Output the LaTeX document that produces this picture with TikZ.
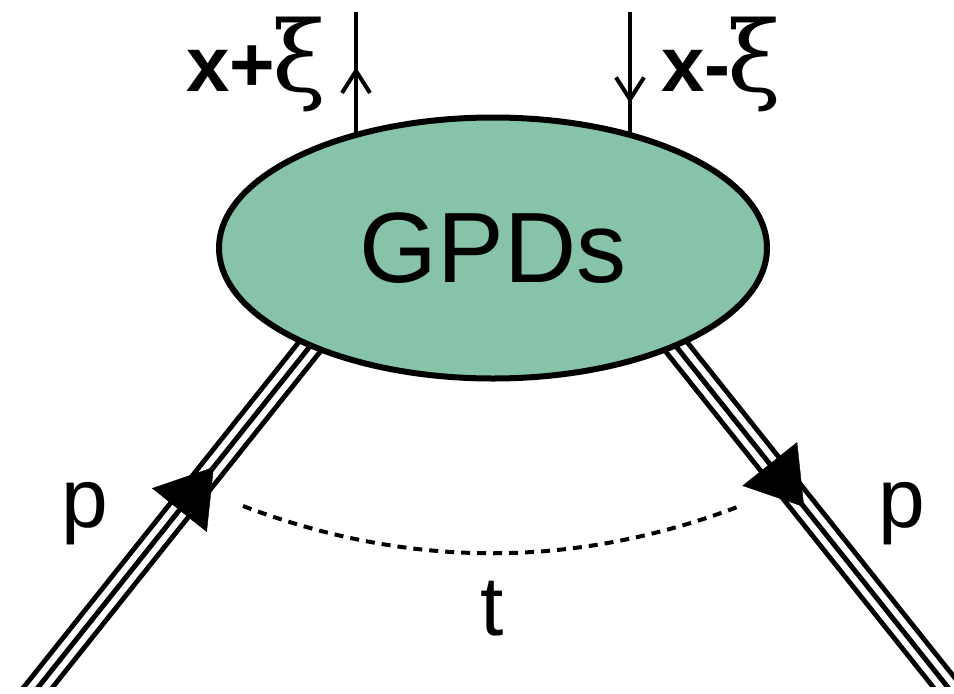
\documentclass[tikz,border=0pt]{standalone}
\usepackage{fontspec}
\setmainfont{Liberation Sans}
\newfontfamily\greekfont{DejaVu Serif}
\usetikzlibrary{arrows.meta,decorations.markings,shapes.geometric,backgrounds}
\definecolor{gpdgreen}{RGB}{134,195,168}
\newcommand\xiglyph{\kern-3pt{\greekfont\mdseries\fontsize{98}{98}\selectfont ξ}}
\begin{document}
\begin{tikzpicture}[x=1pt,y=-1pt,
  blob/.style={ellipse,draw=black,line width=6pt,fill=gpdgreen,
    minimum width=548pt,minimum height=261pt,inner sep=0pt,
    font=\fontsize{100}{100}\selectfont},
  quark/.style={line width=4.6pt},
  barbat/.style={postaction={decorate},decoration={markings,
    mark=at position #1 with {\arrow[line width=4pt]{Straight Barb[length=22pt,width=28pt]}}}},
  hadron/.style={line width=27.5pt,
    postaction={draw=white,line width=17.5pt},
    postaction={draw=black,line width=5pt}},
  bigtip/.style={decoration={markings,
    mark=at position #1 with {\arrow{Triangle[length=55pt,width=70pt]}}},decorate},
  lbl/.style={inner sep=0pt,font=\fontsize{84}{84}\selectfont},
  qlbl/.style={inner sep=0pt,font=\bfseries\fontsize{78}{78}\selectfont},
  cut/.style={dash pattern=on 9pt off 7pt,line width=4pt}]
\useasboundingbox (0,0) rectangle (954,694);

% the blob
\node[blob] (gpd) at (493,248) {GPDs};

% end points of the lines
\coordinate (qin)   at (356,150);
\coordinate (qinE)  at (356,12);
\coordinate (qout)  at (630,150);
\coordinate (qoutE) at (630,12);
\coordinate (pin)   at (28,700);
\coordinate (pinE)  at (331,320);
\coordinate (pout)  at (655,320);
\coordinate (poutE) at (958,700);
\coordinate (tl) at (243,506);
\coordinate (tr) at (740,506);

\begin{scope}[on background layer]
  \draw[quark,barbat=0.60] (qin) -- (qinE);
  \draw[quark,barbat=0.66] (qoutE) -- (qout);
  \begin{scope}
    \clip (0,0) rectangle (954,686);
    \draw[hadron] (pin) -- (pinE);
    \draw[hadron] (pout) -- (poutE);
  \end{scope}
\end{scope}

% proton arrows
\path[bigtip=0.613] (pin) -- (pinE);
\path[bigtip=0.492] (pout) -- (poutE);

% momentum transfer
\draw[cut] (tl) .. controls (409,569) and (575,569) .. (tr);

% labels
\node[qlbl,anchor=base west] (xp) at (186,91) {x+\xiglyph};
\node[qlbl,anchor=base west] (xm) at (661,91) {x-\xiglyph};
\node[lbl,anchor=base] (pl) at (85,527) {p};
\node[lbl,anchor=base] (pr) at (902,527) {p};
\node[lbl,anchor=base] (tt) at (492,635) {t};
\end{tikzpicture}
\end{document}
